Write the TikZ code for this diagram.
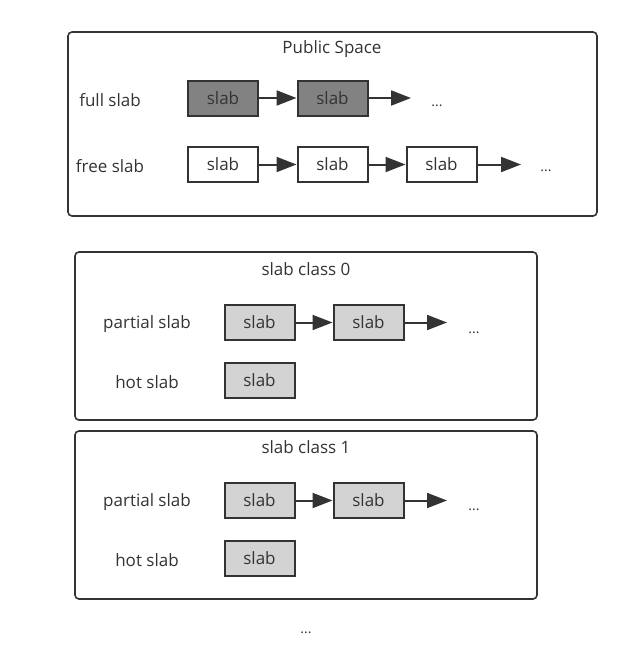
\documentclass[tikz,border=0pt]{standalone}
\usepackage{fontspec}
\setmainfont{Open Sans}
\usetikzlibrary{arrows.meta}

\definecolor{edge}{HTML}{333333}
\definecolor{txt}{HTML}{333333}
\definecolor{fullgray}{HTML}{828282}
\definecolor{usedgray}{HTML}{D3D3D3}

\begin{document}
\begin{tikzpicture}[x=1pt,y=-1pt,
  every node/.style={font=\fontsize{17}{20}\selectfont, text=txt},
  panel/.style={draw=edge, line width=1.6pt, rounded corners=4pt},
  slabbox/.style={draw=edge, line width=2pt, minimum width=70pt, minimum height=35pt, inner sep=0pt},
  full/.style={slabbox, fill=fullgray},
  free/.style={slabbox, fill=white},
  used/.style={slabbox, fill=usedgray},
  dots/.style={font=\fontsize{14}{16}\selectfont, anchor=base},
  link/.style={draw=edge, line width=2pt, -{Triangle[length=20pt,width=15pt]}}]
  \useasboundingbox (0,0) rectangle (629,672);

  % public space
  \draw[panel] (68,32) rectangle (597,216);
  \node (pubtitle) at (332,49) {Public Space};
  \node (fulllbl) at (110,100) {full slab};
  \node (freelbl) at (110,166) {free slab};
  \node[full] (full1) at (223,98) {slab};
  \node[full] (full2) at (332.5,98) {slab};
  \node[dots] (fulldots) at (437,106) {...};
  \coordinate (fullend) at (411,98);
  \node[free] (free1) at (223,164.5) {slab};
  \node[free] (free2) at (332.5,164.5) {slab};
  \node[free] (free3) at (441.5,164.5) {slab};
  \node[dots] (freedots) at (546,171) {...};
  \coordinate (freeend) at (521,164.5);
  \draw[link] (full1) -- (full2);
  \draw[link] (full2) -- (fullend);
  \draw[link] (free1) -- (free2);
  \draw[link] (free2) -- (free3);
  \draw[link] (free3) -- (freeend);

  % slab class 0
  \draw[panel] (75,252) rectangle (537,420);
  \node (cztitle) at (306,269) {slab class 0};
  \node (czpartlbl) at (147,324) {partial slab};
  \node (czhotlbl) at (147,382) {hot slab};
  \node[used] (czp1) at (259.5,322.5) {slab};
  \node[used] (czp2) at (368.5,322.5) {slab};
  \node[dots] (czdots) at (474,333) {...};
  \coordinate (czend) at (447,322.5);
  \node[used] (czhot) at (259.5,380.5) {slab};
  \draw[link] (czp1) -- (czp2);
  \draw[link] (czp2) -- (czend);

  % slab class 1
  \draw[panel] (75,431) rectangle (537,599);
  \node (cotitle) at (306,447) {slab class 1};
  \node (copartlbl) at (147,502) {partial slab};
  \node (cohotlbl) at (147,560) {hot slab};
  \node[used] (cop1) at (259.5,500.5) {slab};
  \node[used] (cop2) at (368.5,500.5) {slab};
  \node[dots] (codots) at (474,510) {...};
  \coordinate (coend) at (447,500.5);
  \node[used] (cohot) at (259.5,558) {slab};
  \draw[link] (cop1) -- (cop2);
  \draw[link] (cop2) -- (coend);

  \node[dots] (moredots) at (306,633) {...};
\end{tikzpicture}
\end{document}
